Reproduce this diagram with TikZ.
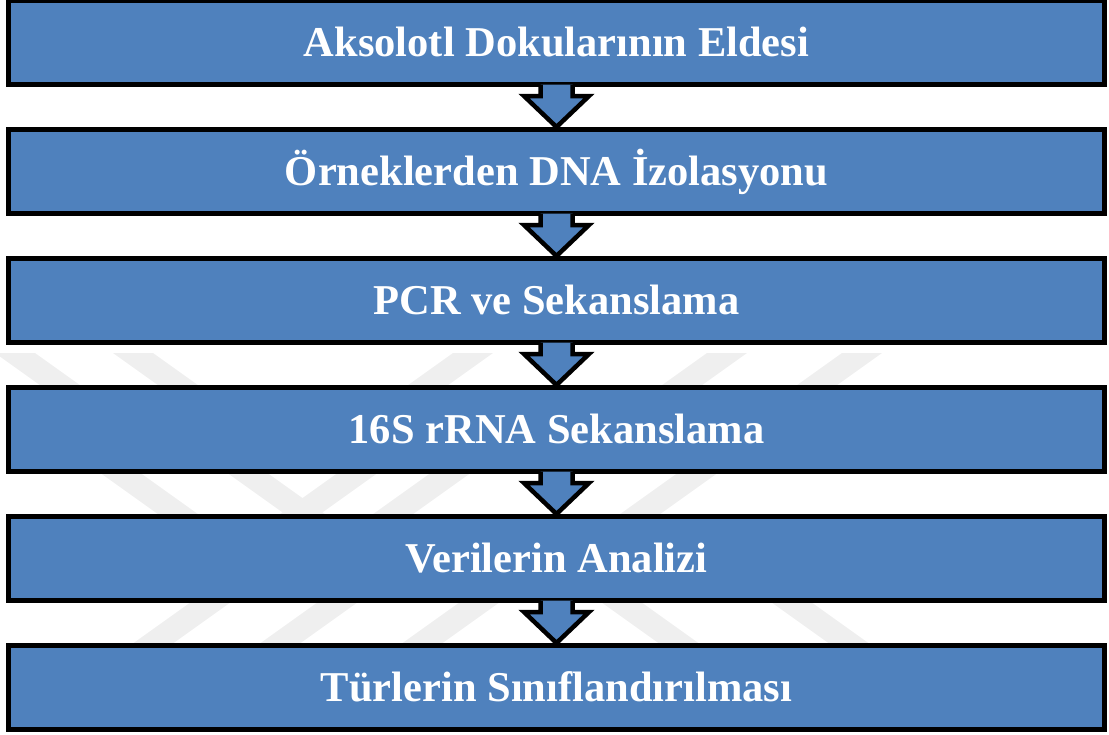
\documentclass[tikz,border=0pt]{standalone}
\usepackage{fontspec}
\setmainfont{Liberation Serif}
\usetikzlibrary{calc}
\definecolor{boxblue}{HTML}{4F81BD}
\definecolor{wmgray}{HTML}{EFEFEF}
\tikzset{
  flowbox/.style={draw=black, fill=boxblue, line width=5pt, rectangle,
    minimum width=1096pt, minimum height=84pt, inner sep=0pt,
    text=white, text height=28pt, text depth=0pt,
    font=\fontsize{42.5}{50}\selectfont\bfseries},
  arrowline/.style={draw=black, line width=4.5pt, line join=miter},
}
\newcommand\wmstripe[5]{% xref, yref, ystart, yend, dir
  \fill[wmgray] ({#1+#5*1.4*(#3-#2)},#3) -- ({#1+40+#5*1.4*(#3-#2)},#3)
    -- ({#1+40+#5*1.4*(#4-#2)},#4) -- ({#1+#5*1.4*(#4-#2)},#4) -- cycle;}
\newcommand\flowarrow[2]{%
  \fill[boxblue] ($(#1.south)+(-16,-2.5)$) -- ($(#1.south)+(-16,9)$)
    -- ($(#1.south)+(-32.5,9)$) -- (#2.north) -- ($(#1.south)+(32.5,9)$)
    -- ($(#1.south)+(16,9)$) -- ($(#1.south)+(16,-2.5)$) -- cycle;
  \draw[arrowline] ($(#1.south)+(-16,-2.5)$) -- ($(#1.south)+(-16,9)$)
    -- ($(#1.south)+(-32.5,9)$) -- (#2.north) -- ($(#1.south)+(32.5,9)$)
    -- ($(#1.south)+(16,9)$) -- ($(#1.south)+(16,-2.5)$);}
\begin{document}
\begin{tikzpicture}[x=1pt,y=-1pt]
\useasboundingbox (0,0) rectangle (1109,734);
% watermark
\wmstripe{-5}{353}{353}{390}{1}
\wmstripe{113}{353}{353}{390}{1}
\wmstripe{453}{353}{353}{390}{-1}
\wmstripe{707}{353}{353}{390}{-1}
\wmstripe{842}{353}{353}{390}{-1}
\wmstripe{106}{477}{471}{519}{1}
\wmstripe{233}{477}{471}{519}{1}
\wmstripe{332}{477}{471}{519}{-1}
\wmstripe{425}{477}{471}{519}{-1}
\wmstripe{672}{477}{471}{519}{-1}
\wmstripe{184}{607}{600}{648}{-1}
\wmstripe{311}{607}{600}{648}{-1}
\wmstripe{453}{607}{600}{648}{-1}
\wmstripe{608}{607}{600}{648}{1}
\wmstripe{778}{607}{600}{648}{1}
% boxes
\node[flowbox] (b1) at (556.5,42.5) {Aksolotl Dokularının Eldesi};
\node[flowbox] (b2) at (556.5,171.5) {Örneklerden DNA İzolasyonu};
\node[flowbox] (b3) at (556.5,300.5) {PCR ve Sekanslama};
\node[flowbox] (b4) at (556.5,429.5) {16S rRNA Sekanslama};
\node[flowbox] (b5) at (556.5,558.5) {Verilerin Analizi};
\node[flowbox] (b6) at (556.5,687.5) {Türlerin Sınıflandırılması};
% arrows
\flowarrow{b1}{b2}
\flowarrow{b2}{b3}
\flowarrow{b3}{b4}
\flowarrow{b4}{b5}
\flowarrow{b5}{b6}
\end{tikzpicture}
\end{document}
